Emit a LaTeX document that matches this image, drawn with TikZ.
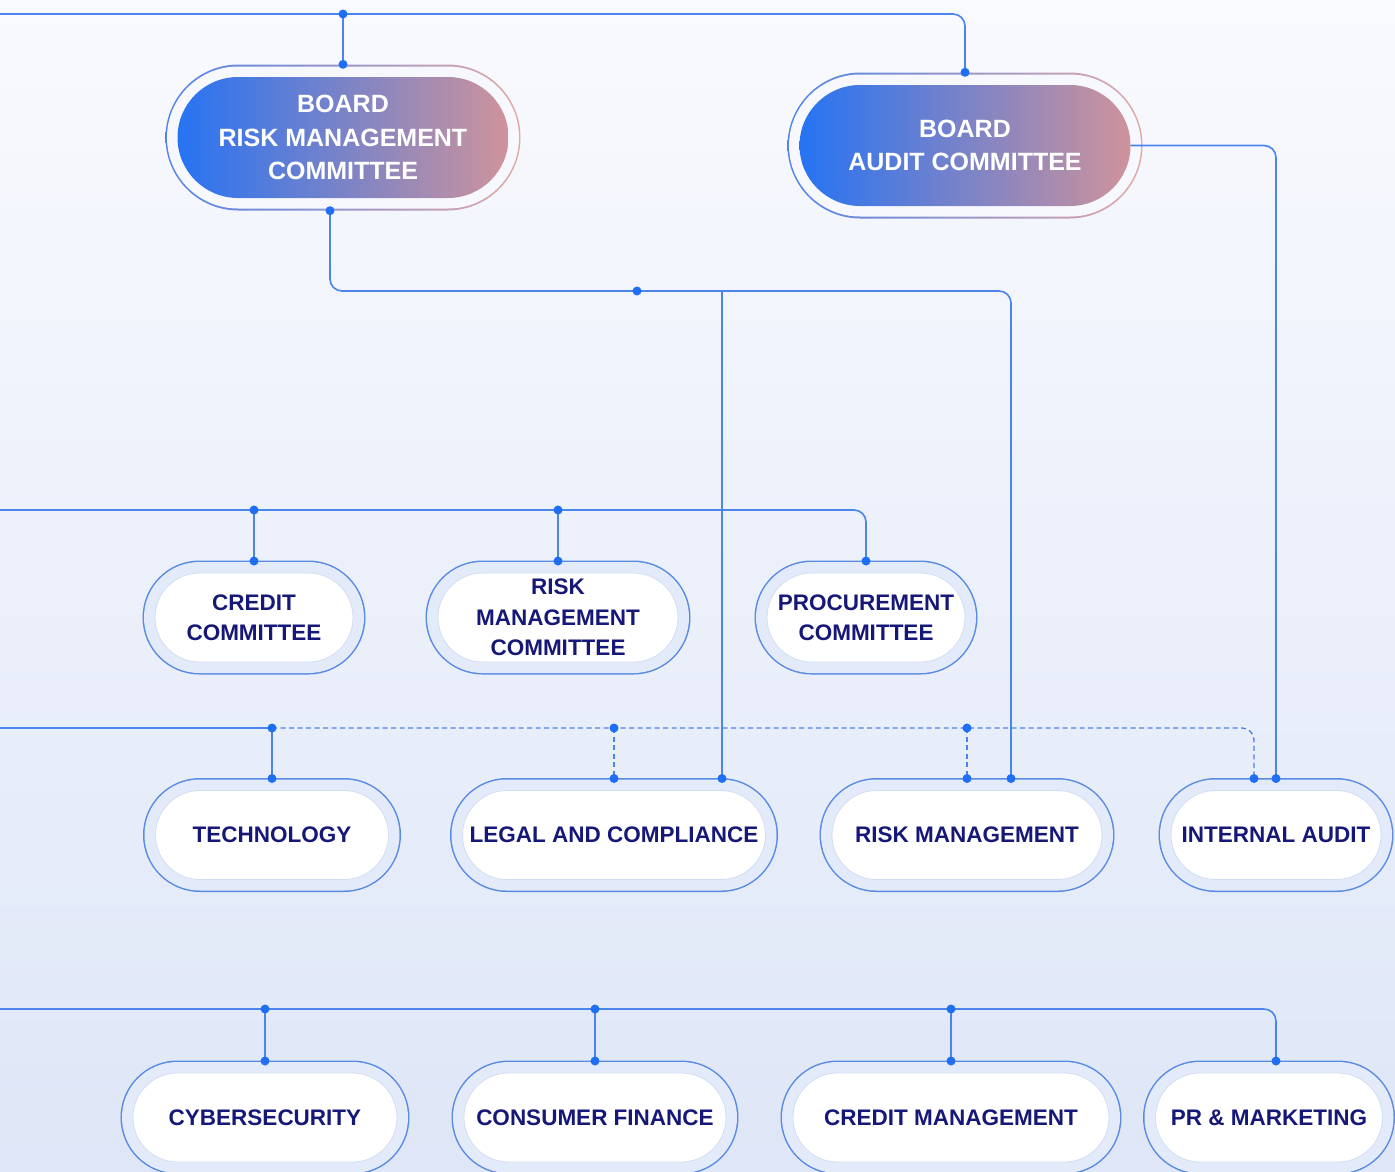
\documentclass[tikz,border=0pt]{standalone}
\usepackage{fontspec}
\setmainfont{Liberation Sans}
\usetikzlibrary{shapes.misc,positioning,calc}

\definecolor{linkc}{HTML}{4A84EC}
\definecolor{dotc}{HTML}{1F6FF5}
\definecolor{boxln}{HTML}{5A8BE3}
\definecolor{band}{HTML}{E3EBFA}
\definecolor{innerln}{HTML}{D3DDF1}
\definecolor{deepnavy}{HTML}{161878}
\definecolor{gradL}{HTML}{2673F3}
\definecolor{gradR}{HTML}{CF939B}
\definecolor{ringL}{HTML}{4F84EA}
\definecolor{ringR}{HTML}{E3A8A6}
\definecolor{ringband}{HTML}{F7F8FD}
\definecolor{bgtop}{HTML}{F9FAFE}
\definecolor{bgbot}{HTML}{DEE6F7}

\begin{document}
\begin{tikzpicture}
  [x=1pt,y=-1pt,
   unitN/.style={shape=rounded rectangle,fill=white,draw=innerln,line width=0.8pt,
     minimum height=89pt,inner sep=0pt,outer sep=12pt,align=center,text=deepnavy,
     font=\fontsize{22.5}{30.5}\selectfont\bfseries,
     preaction={draw=boxln,line width=25pt},
     preaction={draw=band,line width=22pt}},
   ringN/.style={shape=rounded rectangle,minimum width=355pt,minimum height=146pt,
     left color=ringL,right color=ringR,draw=none,inner sep=0pt},
   boardN/.style={shape=rounded rectangle,minimum width=331pt,minimum height=121pt,
     left color=gradL,right color=gradR,draw=none,inner sep=0pt,align=center,text=white,
     font=\fontsize{25}{33.5}\selectfont\bfseries,
     preaction={draw=ringband,line width=21pt}},
   link/.style={draw=linkc,line width=1.6pt,rounded corners=12pt},
   dlink/.style={link,line width=1.4pt,dash pattern=on 5pt off 3.5pt}]

  \useasboundingbox (0,0) rectangle (1395,1171);
  \shade[top color=bgtop,bottom color=bgbot] (0,0) rectangle (1395,1171);

  % board level
  \node[ringN] (brmc-ring) at (343,137.5) {};
  \node[boardN] (brmc) at (brmc-ring) {BOARD\\RISK MANAGEMENT\\COMMITTEE};

  \node[ringN] (bac-ring) at (965,145.5) {};
  \node[boardN] (bac) at (bac-ring) {BOARD\\AUDIT COMMITTEE};

  % committees
  \node[unitN,minimum width=198pt] (credit) at (254,617.5) {CREDIT\\COMMITTEE};
  \node[unitN,minimum width=240pt] (rmc) [right=61pt of credit] {RISK\\MANAGEMENT\\COMMITTEE};
  \node[unitN,minimum width=198pt] (proc) [right=65pt of rmc] {PROCUREMENT\\COMMITTEE};

  % functions
  \node[unitN,minimum width=233pt] (tech) at (272,835) {TECHNOLOGY};
  \node[unitN,minimum width=303pt] (legal) [right=50pt of tech] {LEGAL AND COMPLIANCE};
  \node[unitN,minimum width=270pt] (riskm) [right=42.5pt of legal] {RISK MANAGEMENT};
  \node[unitN,minimum width=210pt] (audit) [right=45pt of riskm] {INTERNAL AUDIT};

  \node[unitN,minimum width=264pt] (cyber) at (265,1117.5) {CYBERSECURITY};
  \node[unitN,minimum width=262pt] (cons) [right=43pt of cyber] {CONSUMER FINANCE};
  \node[unitN,minimum width=316pt] (credm) [right=43pt of cons] {CREDIT MANAGEMENT};
  \node[unitN,minimum width=227pt] (pr) [right=22.5pt of credm] {PR \& MARKETING};

  \coordinate (top-l) at (0,14);
  \coordinate (r2-l) at (0,510);
  \coordinate (r3-l) at (0,728);
  \coordinate (r4-l) at (0,1009);
  \coordinate (brmc-out) at ($(brmc-ring.south)+(-13,0)$);
  \coordinate (rm-bus) at (637,291);
  \coordinate (legal-in) at ($(legal.north)+(108,0)$);
  \coordinate (riskm-in) at ($(riskm.north)+(44,0)$);
  \coordinate (audit-dash) at ($(audit.north)+(-22,0)$);
  \coordinate (pr-in) at ($(pr.north)+(7,0)$);

  % connectors
  \draw[link] (top-l) -| (bac-ring.north);
  \draw[link] (brmc-ring.north |- top-l) -- (brmc-ring.north);
  \draw[link] (bac.east) -| (audit.north);
  \draw[link] (brmc-out) |- (rm-bus) -| (riskm-in);
  \draw[link] (legal-in |- rm-bus) -- (legal-in);

  \draw[link] (r2-l) -| (proc.north);
  \draw[link] (credit.north |- r2-l) -- (credit.north);
  \draw[link] (rmc.north |- r2-l) -- (rmc.north);

  \draw[link,sharp corners] (r3-l) -| (tech.north);
  \draw[dlink] (tech.north |- r3-l) -| (audit-dash);
  \draw[dlink] (legal.north |- r3-l) -- (legal.north);
  \draw[dlink] (riskm.north |- r3-l) -- (riskm.north);

  \draw[link] (r4-l) -| (pr-in);
  \draw[link] (cyber.north |- r4-l) -- (cyber.north);
  \draw[link] (cons.north |- r4-l) -- (cons.north);
  \draw[link] (credm.north |- r4-l) -- (credm.north);

  \foreach \p in {brmc-ring.north |- top-l,brmc-ring.north,bac-ring.north,brmc-out,rm-bus,
      credit.north |- r2-l,credit.north,rmc.north |- r2-l,rmc.north,proc.north,
      tech.north |- r3-l,tech.north,legal.north |- r3-l,legal.north,legal-in,
      riskm.north |- r3-l,riskm.north,riskm-in,audit-dash,audit.north,
      cyber.north |- r4-l,cyber.north,cons.north |- r4-l,cons.north,
      credm.north |- r4-l,credm.north,pr-in}
    \fill[dotc] (\p) circle (4.5pt);

\end{tikzpicture}
\end{document}
